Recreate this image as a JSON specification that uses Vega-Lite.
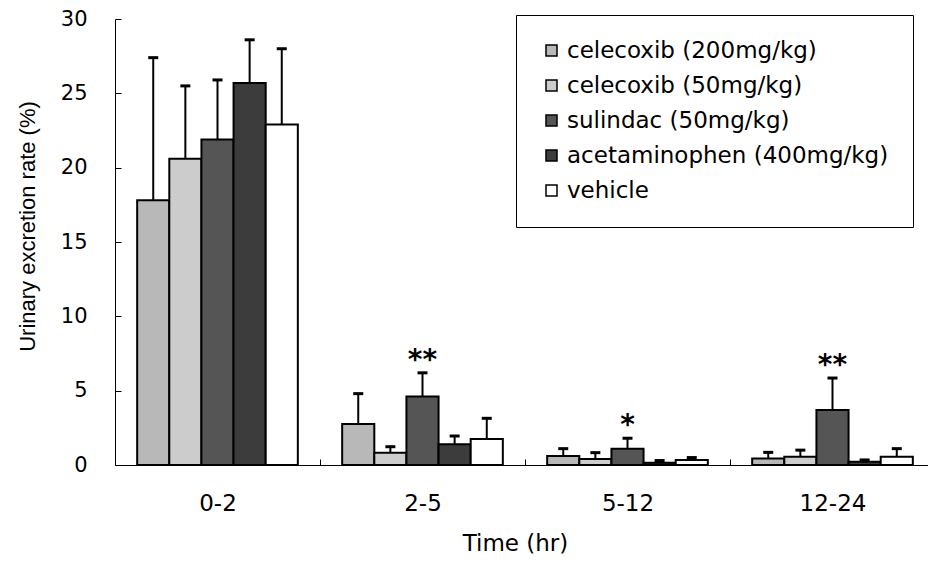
{
  "$schema": "https://vega.github.io/schema/vega-lite/v6.json",
  "width": 820,
  "height": 446,
  "autosize": {"type": "none"},
  "padding": {"left": 115, "top": 19, "right": 0, "bottom": 99},
  "background": "white",
  "config": {"view": {"stroke": null}, "font": "DejaVu Sans"},
  "datasets": {
    "bars": [
      {"time": "0-2", "group": "celecoxib (200mg/kg)", "value": 17.8, "err": 27.4},
      {"time": "0-2", "group": "celecoxib (50mg/kg)", "value": 20.6, "err": 25.5},
      {"time": "0-2", "group": "sulindac (50mg/kg)", "value": 21.9, "err": 25.9},
      {"time": "0-2", "group": "acetaminophen (400mg/kg)", "value": 25.7, "err": 28.6},
      {"time": "0-2", "group": "vehicle", "value": 22.9, "err": 28.0},
      {"time": "2-5", "group": "celecoxib (200mg/kg)", "value": 2.76, "err": 4.8},
      {"time": "2-5", "group": "celecoxib (50mg/kg)", "value": 0.83, "err": 1.23},
      {"time": "2-5", "group": "sulindac (50mg/kg)", "value": 4.6, "err": 6.2},
      {"time": "2-5", "group": "acetaminophen (400mg/kg)", "value": 1.39, "err": 1.95},
      {"time": "2-5", "group": "vehicle", "value": 1.75, "err": 3.14},
      {"time": "5-12", "group": "celecoxib (200mg/kg)", "value": 0.6, "err": 1.1},
      {"time": "5-12", "group": "celecoxib (50mg/kg)", "value": 0.4, "err": 0.83},
      {"time": "5-12", "group": "sulindac (50mg/kg)", "value": 1.1, "err": 1.8},
      {"time": "5-12", "group": "acetaminophen (400mg/kg)", "value": 0.15, "err": 0.3},
      {"time": "5-12", "group": "vehicle", "value": 0.34, "err": 0.5},
      {"time": "12-24", "group": "celecoxib (200mg/kg)", "value": 0.43, "err": 0.85},
      {"time": "12-24", "group": "celecoxib (50mg/kg)", "value": 0.56, "err": 1.0},
      {"time": "12-24", "group": "sulindac (50mg/kg)", "value": 3.7, "err": 5.85},
      {"time": "12-24", "group": "acetaminophen (400mg/kg)", "value": 0.22, "err": 0.34},
      {"time": "12-24", "group": "vehicle", "value": 0.56, "err": 1.1}
    ],
    "stars": [
      {"time": "2-5", "group": "sulindac (50mg/kg)", "err": 6.2, "label": "**"},
      {"time": "5-12", "group": "sulindac (50mg/kg)", "err": 1.8, "label": "*"},
      {"time": "12-24", "group": "sulindac (50mg/kg)", "err": 5.85, "label": "**"}
    ]
  },
  "data": {"name": "bars"},
  "encoding": {
    "x": {
      "field": "time", "type": "nominal",
      "sort": ["0-2", "2-5", "5-12", "12-24"],
      "scale": {"paddingInner": 0, "paddingOuter": 0},
      "axis": {
        "title": "Time (hr)",
        "labelAngle": 0,
        "tickBand": "extent",
        "tickSize": -6,
        "tickColor": "black",
        "domainColor": "black",
        "labelFont": "DejaVu Sans",
        "labelFontSize": 23,
        "labelColor": "black",
        "labelPadding": 33,
        "labelBaseline": "top",
        "titleFont": "DejaVu Sans",
        "titleFontSize": 23,
        "titleFontWeight": "normal",
        "titleColor": "black",
        "titleX": 400,
        "titleY": 67,
        "titleAlign": "center",
        "titleBaseline": "top"
      }
    },
    "xOffset": {
      "field": "group", "type": "nominal",
      "sort": ["celecoxib (200mg/kg)", "celecoxib (50mg/kg)", "sulindac (50mg/kg)", "acetaminophen (400mg/kg)", "vehicle"],
      "scale": {"paddingInner": 0, "paddingOuter": 0.69}
    }
  },
  "layer": [
    {
      "mark": {"type": "bar", "stroke": "black", "strokeWidth": 2},
      "encoding": {
        "y": {
          "field": "value", "type": "quantitative",
          "scale": {"domain": [0, 30], "nice": false},
          "axis": {
            "title": "Urinary excretion rate (%)",
            "values": [0, 5, 10, 15, 20, 25, 30],
            "grid": false,
            "domainColor": "black",
            "tickColor": "black",
            "tickSize": -6,
            "labelFont": "DejaVu Sans",
            "labelFontSize": 21,
            "labelColor": "black",
            "labelPadding": 34,
            "titleFont": "Liberation Sans",
            "titleFontSize": 22,
            "titleFontWeight": "normal",
            "titleColor": "black",
            "titleAngle": -90,
            "titleX": -88,
            "titleY": 207,
            "titleAlign": "center",
            "titleBaseline": "middle"
          }
        },
        "fill": {
          "field": "group", "type": "nominal",
          "scale": {
            "domain": ["celecoxib (200mg/kg)", "celecoxib (50mg/kg)", "sulindac (50mg/kg)", "acetaminophen (400mg/kg)", "vehicle"],
            "range": ["#b8b8b8", "#cccccc", "#555555", "#3c3c3c", "#ffffff"]
          },
          "legend": {
            "orient": "none",
            "legendX": 401,
            "legendY": -4,
            "title": null,
            "strokeColor": "black",
            "fillColor": "white",
            "padding": 24,
            "symbolType": "square",
            "symbolSize": 121,
            "symbolStrokeColor": "black",
            "symbolStrokeWidth": 1.5,
            "symbolOpacity": 1,
            "labelFont": "DejaVu Sans",
            "labelFontSize": 23,
            "labelColor": "black",
            "labelOffset": 4,
            "labelLimit": 500,
            "rowPadding": 11
          }
        }
      }
    },
    {
      "mark": {"type": "rule", "color": "black", "strokeWidth": 2},
      "encoding": {
        "y": {"field": "value", "type": "quantitative"},
        "y2": {"field": "err"}
      }
    },
    {
      "mark": {"type": "tick", "color": "black", "thickness": 3, "size": 10, "orient": "horizontal", "opacity": 1},
      "encoding": {
        "y": {"field": "err", "type": "quantitative"}
      }
    },
    {
      "data": {"name": "stars"},
      "mark": {"type": "text", "font": "DejaVu Sans", "fontWeight": "bold", "fontSize": 28, "color": "black", "baseline": "alphabetic", "dy": -4},
      "encoding": {
        "y": {"field": "err", "type": "quantitative"},
        "text": {"field": "label"}
      }
    }
  ]
}
